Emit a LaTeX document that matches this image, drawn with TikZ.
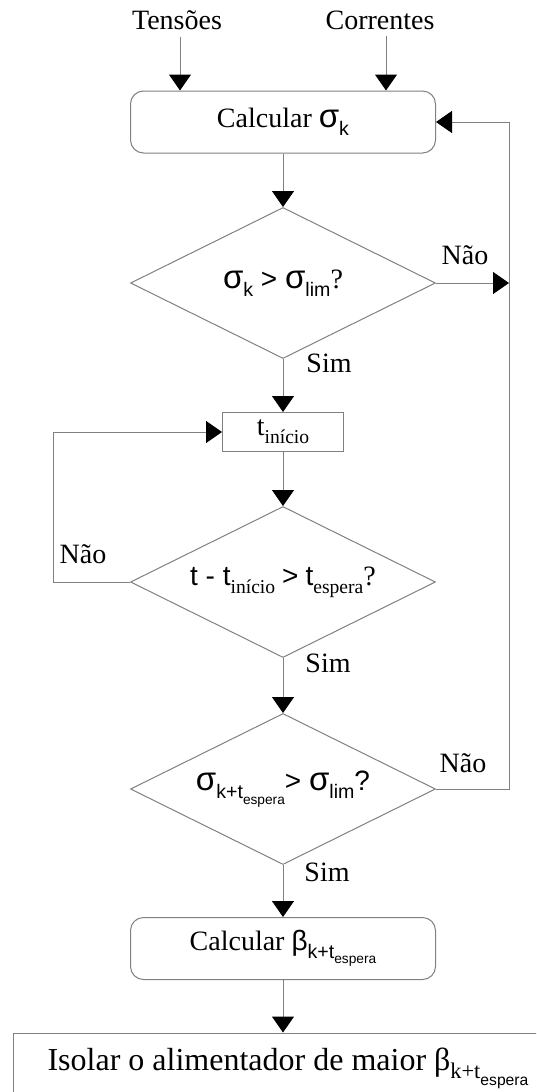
\documentclass[tikz,border=0pt]{standalone}
\usepackage{fontspec}
\setmainfont{Liberation Serif}
\newfontfamily\arial{Liberation Sans}
\usetikzlibrary{shapes.geometric,arrows.meta}
\definecolor{linegray}{RGB}{128,128,128}
\makeatletter
\newcommand{\sub}[1]{\raisebox{-0.28em}{\fontsize{\fpeval{0.7*\f@size}}{\fpeval{0.7*\f@size}}\selectfont #1}}
\makeatother
\newcommand{\sig}{{\arial\fontsize{16.5pt}{17pt}\selectfont σ}}
\begin{document}
\begin{tikzpicture}[x=0.5pt,y=-0.5pt,
    every node/.style={font=\fontsize{14pt}{17pt}\selectfont},
    flow/.style={draw=linegray,line width=0.5pt,-{Triangle[length=8pt,width=11pt,color=black]}},
    procbox/.style={draw=linegray,line width=0.5pt,rounded corners=6.5pt,minimum width=152.5pt,minimum height=31pt,inner sep=0pt},
    testbox/.style={draw=linegray,line width=0.5pt,diamond,aspect=2,minimum width=152.5pt,minimum height=75.5pt,inner sep=1pt},
    timebox/.style={draw=linegray,line width=0.5pt,minimum width=60.5pt,minimum height=19.5pt,inner sep=0pt}]
  \useasboundingbox (0,0) rectangle (536,1092);
  \clip (0,0) rectangle (536,1092);
  \node (tens) at (177,20) {Tensões};
  \node (corr) at (380,20) {Correntes};
  \node[procbox] (calc1) at (283,122) {Calcular \sig{\arial\sub{k}}};
  \node[testbox] (d1) at (283,283) {{\arial\sig\sub{k} > \sig\sub{lim}}?};
  \node[timebox] (ini) at (283,432) {t\sub{início}};
  \node[testbox] (d2) at (283,582) {{\arial t - t}\sub{início} {\arial >} {\arial t}\sub{espera}?};
  \node[testbox] (d3) at (283,789) {{\arial\sig\sub{k+t\sub{espera}}> \sig\sub{lim}?}};
  \node[procbox] (calc2) at (283,948.5) {Calcular {\arial β\sub{k+t\sub{espera}}}};
  \node[draw=linegray,line width=0.5pt,minimum width=275pt,minimum height=35pt,inner sep=0pt,
    font=\fontsize{16pt}{19pt}\selectfont] (isol) at (288,1068)
    {Isolar o alimentador de maior β\sub{k+t\sub{\arial espera}}};
  \node (nao1) at (465,255) {Não};
  \node (sim1) at (329,363) {Sim};
  \node (nao2) at (83,554) {Não};
  \node (sim2) at (328,663) {Sim};
  \node (nao3) at (463,763) {Não};
  \node (sim3) at (327,872) {Sim};
  \coordinate (rret) at (509,0);
  \coordinate (lret) at (53,0);
  \draw[flow] ([xshift=1.5pt]tens.south) -- ([xshift=1.5pt]tens.south |- calc1.north);
  \draw[flow] ([xshift=3pt]corr.south) -- ([xshift=3pt]corr.south |- calc1.north);
  \draw[flow] (calc1) -- (d1);
  \draw[flow] (d1) -- (ini);
  \draw[flow] (ini) -- (d2);
  \draw[flow] (d2) -- (d3);
  \draw[flow] (d3) -- (calc2);
  \draw[flow] (calc2) -- (calc2 |- isol.north);
  \draw[flow] (d1.east) -- (rret |- d1.east);
  \draw[flow] (d3.east) -- (rret |- d3.east) -- (rret |- calc1.east) -- (calc1.east);
  \draw[flow] (d2.west) -- (lret |- d2.west) -- (lret |- ini.west) -- (ini.west);
\end{tikzpicture}
\end{document}
